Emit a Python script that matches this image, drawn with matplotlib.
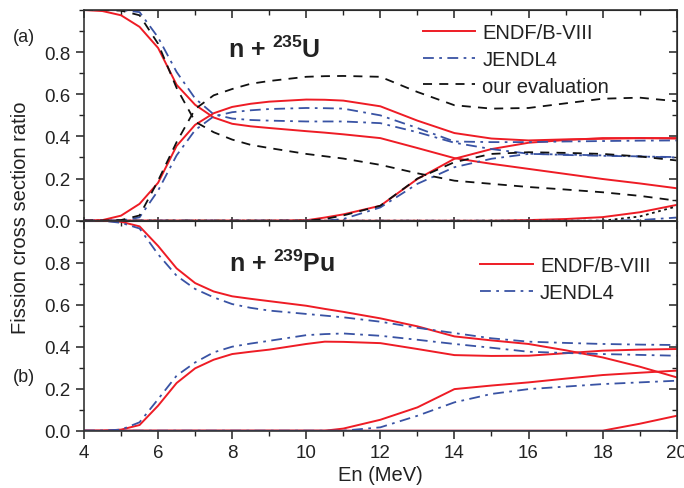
# -*- coding: utf-8 -*-
"""
Multi-chance fission cross section ratios for n + 235U and n + 239Pu.
ENDF/B-VIII vs JENDL4 (vs our evaluation for 235U).
"""

import numpy as np
import matplotlib.pyplot as plt
from matplotlib.ticker import MultipleLocator

plt.rcParams['font.family'] = ['Liberation Sans', 'DejaVu Sans']
plt.rcParams['mathtext.fontset'] = 'custom'
plt.rcParams['mathtext.rm'] = 'Liberation Sans'
plt.rcParams['mathtext.bf'] = 'Liberation Sans:bold'

# ══════════════════════════════════════════════
# Data
# ══════════════════════════════════════════════

energy = [4, 4.5, 5, 5.5, 6, 6.5, 7, 7.5, 8, 8.5, 9, 10, 10.5, 11,
          12, 13, 14, 15, 16, 17, 18, 19, 20]

# n + 235U, ENDF/B-VIII (1st..4th chance)
u_endf_1 = [1.0, 0.995, 0.975, 0.92, 0.82, 0.645, 0.55, 0.49, 0.46, 0.448, 0.44,
            0.425, 0.418, 0.41, 0.392, 0.345, 0.297, 0.27, 0.246, 0.222, 0.198, 0.177, 0.154]
u_endf_2 = [0.0, 0.003, 0.024, 0.08, 0.18, 0.355, 0.455, 0.51, 0.54, 0.555, 0.565,
            0.575, 0.574, 0.57, 0.543, 0.475, 0.416, 0.39, 0.381, 0.386, 0.389, 0.392, 0.392]
u_endf_3 = [0, 0, 0, 0, 0, 0, 0, 0, 0, 0, 0,
            0.002, 0.015, 0.03, 0.071, 0.198, 0.294, 0.34, 0.37, 0.383, 0.392, 0.392, 0.39]
u_endf_4 = [0, 0, 0, 0, 0, 0, 0, 0, 0, 0, 0,
            0, 0, 0, 0, 0, 0, 0, 0.003, 0.008, 0.017, 0.04, 0.075]

# n + 235U, JENDL4
u_jendl_1 = [1.0, 1.0, 1.0, 0.99, 0.87, 0.706, 0.58, 0.505, 0.485, 0.478, 0.475,
             0.471, 0.471, 0.471, 0.463, 0.42, 0.37, 0.34, 0.318, 0.312, 0.308, 0.305, 0.302]
u_jendl_2 = [0, 0, 0, 0.016, 0.143, 0.31, 0.43, 0.495, 0.515, 0.524, 0.53,
             0.535, 0.534, 0.532, 0.5, 0.44, 0.376, 0.373, 0.373, 0.376, 0.378, 0.38, 0.381]
u_jendl_3 = [0, 0, 0, 0, 0, 0, 0, 0, 0, 0, 0,
             0, 0, 0.008, 0.063, 0.175, 0.254, 0.294, 0.317, 0.314, 0.31, 0.305, 0.3]
u_jendl_4 = [0, 0, 0, 0, 0, 0, 0, 0, 0, 0, 0,
             0, 0, 0, 0, 0, 0, 0, 0, 0, 0, 0.003, 0.015]

# n + 235U, our evaluation
u_eval_1 = [1.0, 1.0, 0.997, 0.975, 0.84, 0.63, 0.47, 0.42, 0.385, 0.36, 0.345,
            0.317, 0.306, 0.295, 0.265, 0.225, 0.19, 0.175, 0.16, 0.148, 0.135, 0.118, 0.095]
u_eval_2 = [0, 0, 0.003, 0.025, 0.19, 0.373, 0.53, 0.595, 0.625, 0.65, 0.663,
            0.683, 0.686, 0.687, 0.683, 0.611, 0.548, 0.532, 0.535, 0.557, 0.579, 0.584, 0.567]
u_eval_3 = [0, 0, 0, 0, 0, 0, 0, 0, 0, 0, 0,
            0, 0.008, 0.025, 0.071, 0.2, 0.278, 0.317, 0.325, 0.322, 0.317, 0.305, 0.286]
u_eval_4 = [0, 0, 0, 0, 0, 0, 0, 0, 0, 0, 0,
            0, 0, 0, 0, 0, 0, 0, 0, 0, 0, 0.02, 0.068]

# n + 239Pu, ENDF/B-VIII
pu_endf_1 = [1.0, 1.0, 0.995, 0.973, 0.88, 0.773, 0.703, 0.663, 0.64, 0.628, 0.617,
             0.595, 0.58, 0.566, 0.535, 0.497, 0.449, 0.43, 0.413, 0.383, 0.349, 0.305, 0.254]
pu_endf_2 = [0, 0, 0.005, 0.027, 0.119, 0.227, 0.297, 0.338, 0.365, 0.376, 0.386,
             0.413, 0.424, 0.423, 0.417, 0.389, 0.36, 0.356, 0.357, 0.369, 0.381, 0.386, 0.389]
pu_endf_3 = [0, 0, 0, 0, 0, 0, 0, 0, 0, 0, 0,
             0, 0, 0.01, 0.052, 0.111, 0.198, 0.215, 0.23, 0.248, 0.265, 0.276, 0.286]
pu_endf_4 = [0, 0, 0, 0, 0, 0, 0, 0, 0, 0, 0,
             0, 0, 0, 0, 0, 0, 0, 0, 0, 0, 0.033, 0.071]

# n + 239Pu, JENDL4
pu_jendl_1 = [1.0, 1.0, 0.99, 0.963, 0.84, 0.738, 0.675, 0.635, 0.603, 0.585, 0.572,
              0.556, 0.548, 0.54, 0.519, 0.49, 0.465, 0.44, 0.424, 0.418, 0.413, 0.41, 0.408]
pu_jendl_2 = [0, 0, 0.005, 0.04, 0.15, 0.262, 0.325, 0.373, 0.4, 0.415, 0.428,
              0.455, 0.46, 0.463, 0.452, 0.433, 0.413, 0.395, 0.376, 0.37, 0.365, 0.361, 0.357]
pu_jendl_3 = [0, 0, 0, 0, 0, 0, 0, 0, 0, 0, 0,
              0, 0, 0, 0.016, 0.071, 0.135, 0.175, 0.198, 0.21, 0.222, 0.23, 0.238]
pu_jendl_4 = [0] * 23

# ══════════════════════════════════════════════
# Styles
# ══════════════════════════════════════════════

RED = '#ee1c25'
BLUE = '#3953a4'
BLACK = '#111111'
TEXT = '#222222'

endf_kw = dict(color=RED, lw=1.4)
jendl_kw = dict(color=BLUE, lw=1.3, dashes=(6, 3, 1.5, 3))
eval_kw = dict(color=BLACK, lw=1.3, dashes=(5, 4))


def style_axes(ax, bottom_dir='out'):
    ax.set_xlim(4, 20)
    ax.set_ylim(0, 1.0)
    ax.xaxis.set_major_locator(MultipleLocator(2))
    ax.xaxis.set_minor_locator(MultipleLocator(1))
    ax.yaxis.set_major_locator(MultipleLocator(0.2))
    ax.yaxis.set_minor_locator(MultipleLocator(0.1))
    ax.set_yticks([0.0, 0.2, 0.4, 0.6, 0.8])
    ax.yaxis.set_major_formatter(plt.FuncFormatter(lambda v, p: f'{v:.1f}'))
    ax.tick_params(axis='y', which='both', direction='out', colors=TEXT,
                   labelsize=13.5)
    ax.tick_params(axis='x', which='both', direction=bottom_dir, colors=TEXT,
                   labelsize=13.5)
    ax.tick_params(which='major', length=6, width=1.1)
    ax.tick_params(which='minor', length=3.5, width=1.0)
    for s in ax.spines.values():
        s.set_linewidth(1.2)
        s.set_color('#333333')

    # mirrored ticks on top/right, pointing inward
    sx = ax.secondary_xaxis('top')
    sx.xaxis.set_major_locator(MultipleLocator(2))
    sx.xaxis.set_minor_locator(MultipleLocator(1))
    sx.tick_params(which='both', direction='in', labeltop=False, colors=TEXT)
    sx.tick_params(which='major', length=6, width=1.1)
    sx.tick_params(which='minor', length=3.5, width=1.0)
    sy = ax.secondary_yaxis('right')
    sy.yaxis.set_major_locator(MultipleLocator(0.2))
    sy.yaxis.set_minor_locator(MultipleLocator(0.1))
    sy.tick_params(which='both', direction='in', labelright=False, colors=TEXT)
    sy.tick_params(which='major', length=6, width=1.1)
    sy.tick_params(which='minor', length=3.5, width=1.0)


# ══════════════════════════════════════════════
# Figure
# ══════════════════════════════════════════════

fig = plt.figure(figsize=(6.84, 4.89), dpi=100)
ax_u = fig.add_axes([0.1228, 0.5466, 0.8665, 0.4309])
ax_pu = fig.add_axes([0.1228, 0.1172, 0.8665, 0.4294], sharex=ax_u)

# ── (a) n + 235U ──
ax_u.plot(energy, u_endf_1, label='ENDF/B-VIII', **endf_kw)
for ys in (u_endf_2, u_endf_3, u_endf_4):
    ax_u.plot(energy, ys, **endf_kw)
ax_u.plot(energy, u_jendl_1, label='JENDL4', **jendl_kw)
for ys in (u_jendl_2, u_jendl_3, u_jendl_4):
    ax_u.plot(energy, ys, **jendl_kw)
ax_u.plot(energy, u_eval_1, label='our evaluation', **eval_kw)
for ys in (u_eval_2, u_eval_3):
    ax_u.plot(energy, ys, **eval_kw)
ax_u.plot(energy, u_eval_4, color=BLACK, lw=1.3, dashes=(1.5, 2))

style_axes(ax_u, bottom_dir='inout')
ax_u.tick_params(axis='x', labelbottom=False)
ax_u.text(0.243, 0.778, r'n + $^{\mathbf{235}}$U', transform=ax_u.transAxes,
          fontsize=18, fontweight='bold', color=TEXT, va='baseline', ha='left')
ax_u.legend(loc='upper left', bbox_to_anchor=(0.555, 0.985), frameon=False,
            fontsize=14.5, handlelength=2.6, handletextpad=0.35,
            labelspacing=0.38, borderpad=0, labelcolor=TEXT)

# ── (b) n + 239Pu ──
ax_pu.plot(energy, pu_endf_1, label='ENDF/B-VIII', **endf_kw)
for ys in (pu_endf_2, pu_endf_3, pu_endf_4):
    ax_pu.plot(energy, ys, **endf_kw)
ax_pu.plot(energy, pu_jendl_1, label='JENDL4', **jendl_kw)
for ys in (pu_jendl_2, pu_jendl_3):
    ax_pu.plot(energy, ys, **jendl_kw)
ax_pu.plot(energy, pu_jendl_4, color=BLUE, lw=1.6)

style_axes(ax_pu, bottom_dir='out')
ax_pu.text(0.245, 0.762, r'n + $^{\mathbf{239}}$Pu', transform=ax_pu.transAxes,
           fontsize=18, fontweight='bold', color=TEXT, va='baseline', ha='left')
ax_pu.legend(loc='upper left', bbox_to_anchor=(0.652, 0.88), frameon=False,
             fontsize=14.5, handlelength=2.6, handletextpad=0.35,
             labelspacing=0.38, borderpad=0, labelcolor=TEXT)
ax_pu.set_xlabel('En (MeV)', fontsize=14.5, color=TEXT, labelpad=3)

fig.text(0.03, 0.555, 'Fission cross section ratio', rotation=90,
         fontsize=14.5, color=TEXT, ha='center', va='center')
fig.text(0.019, 1 - 37 / 489, '(a)', fontsize=13, color=TEXT, va='center')
fig.text(0.019, 1 - 377 / 489, '(b)', fontsize=13, color=TEXT, va='center')

plt.savefig('out.png', dpi=100)
